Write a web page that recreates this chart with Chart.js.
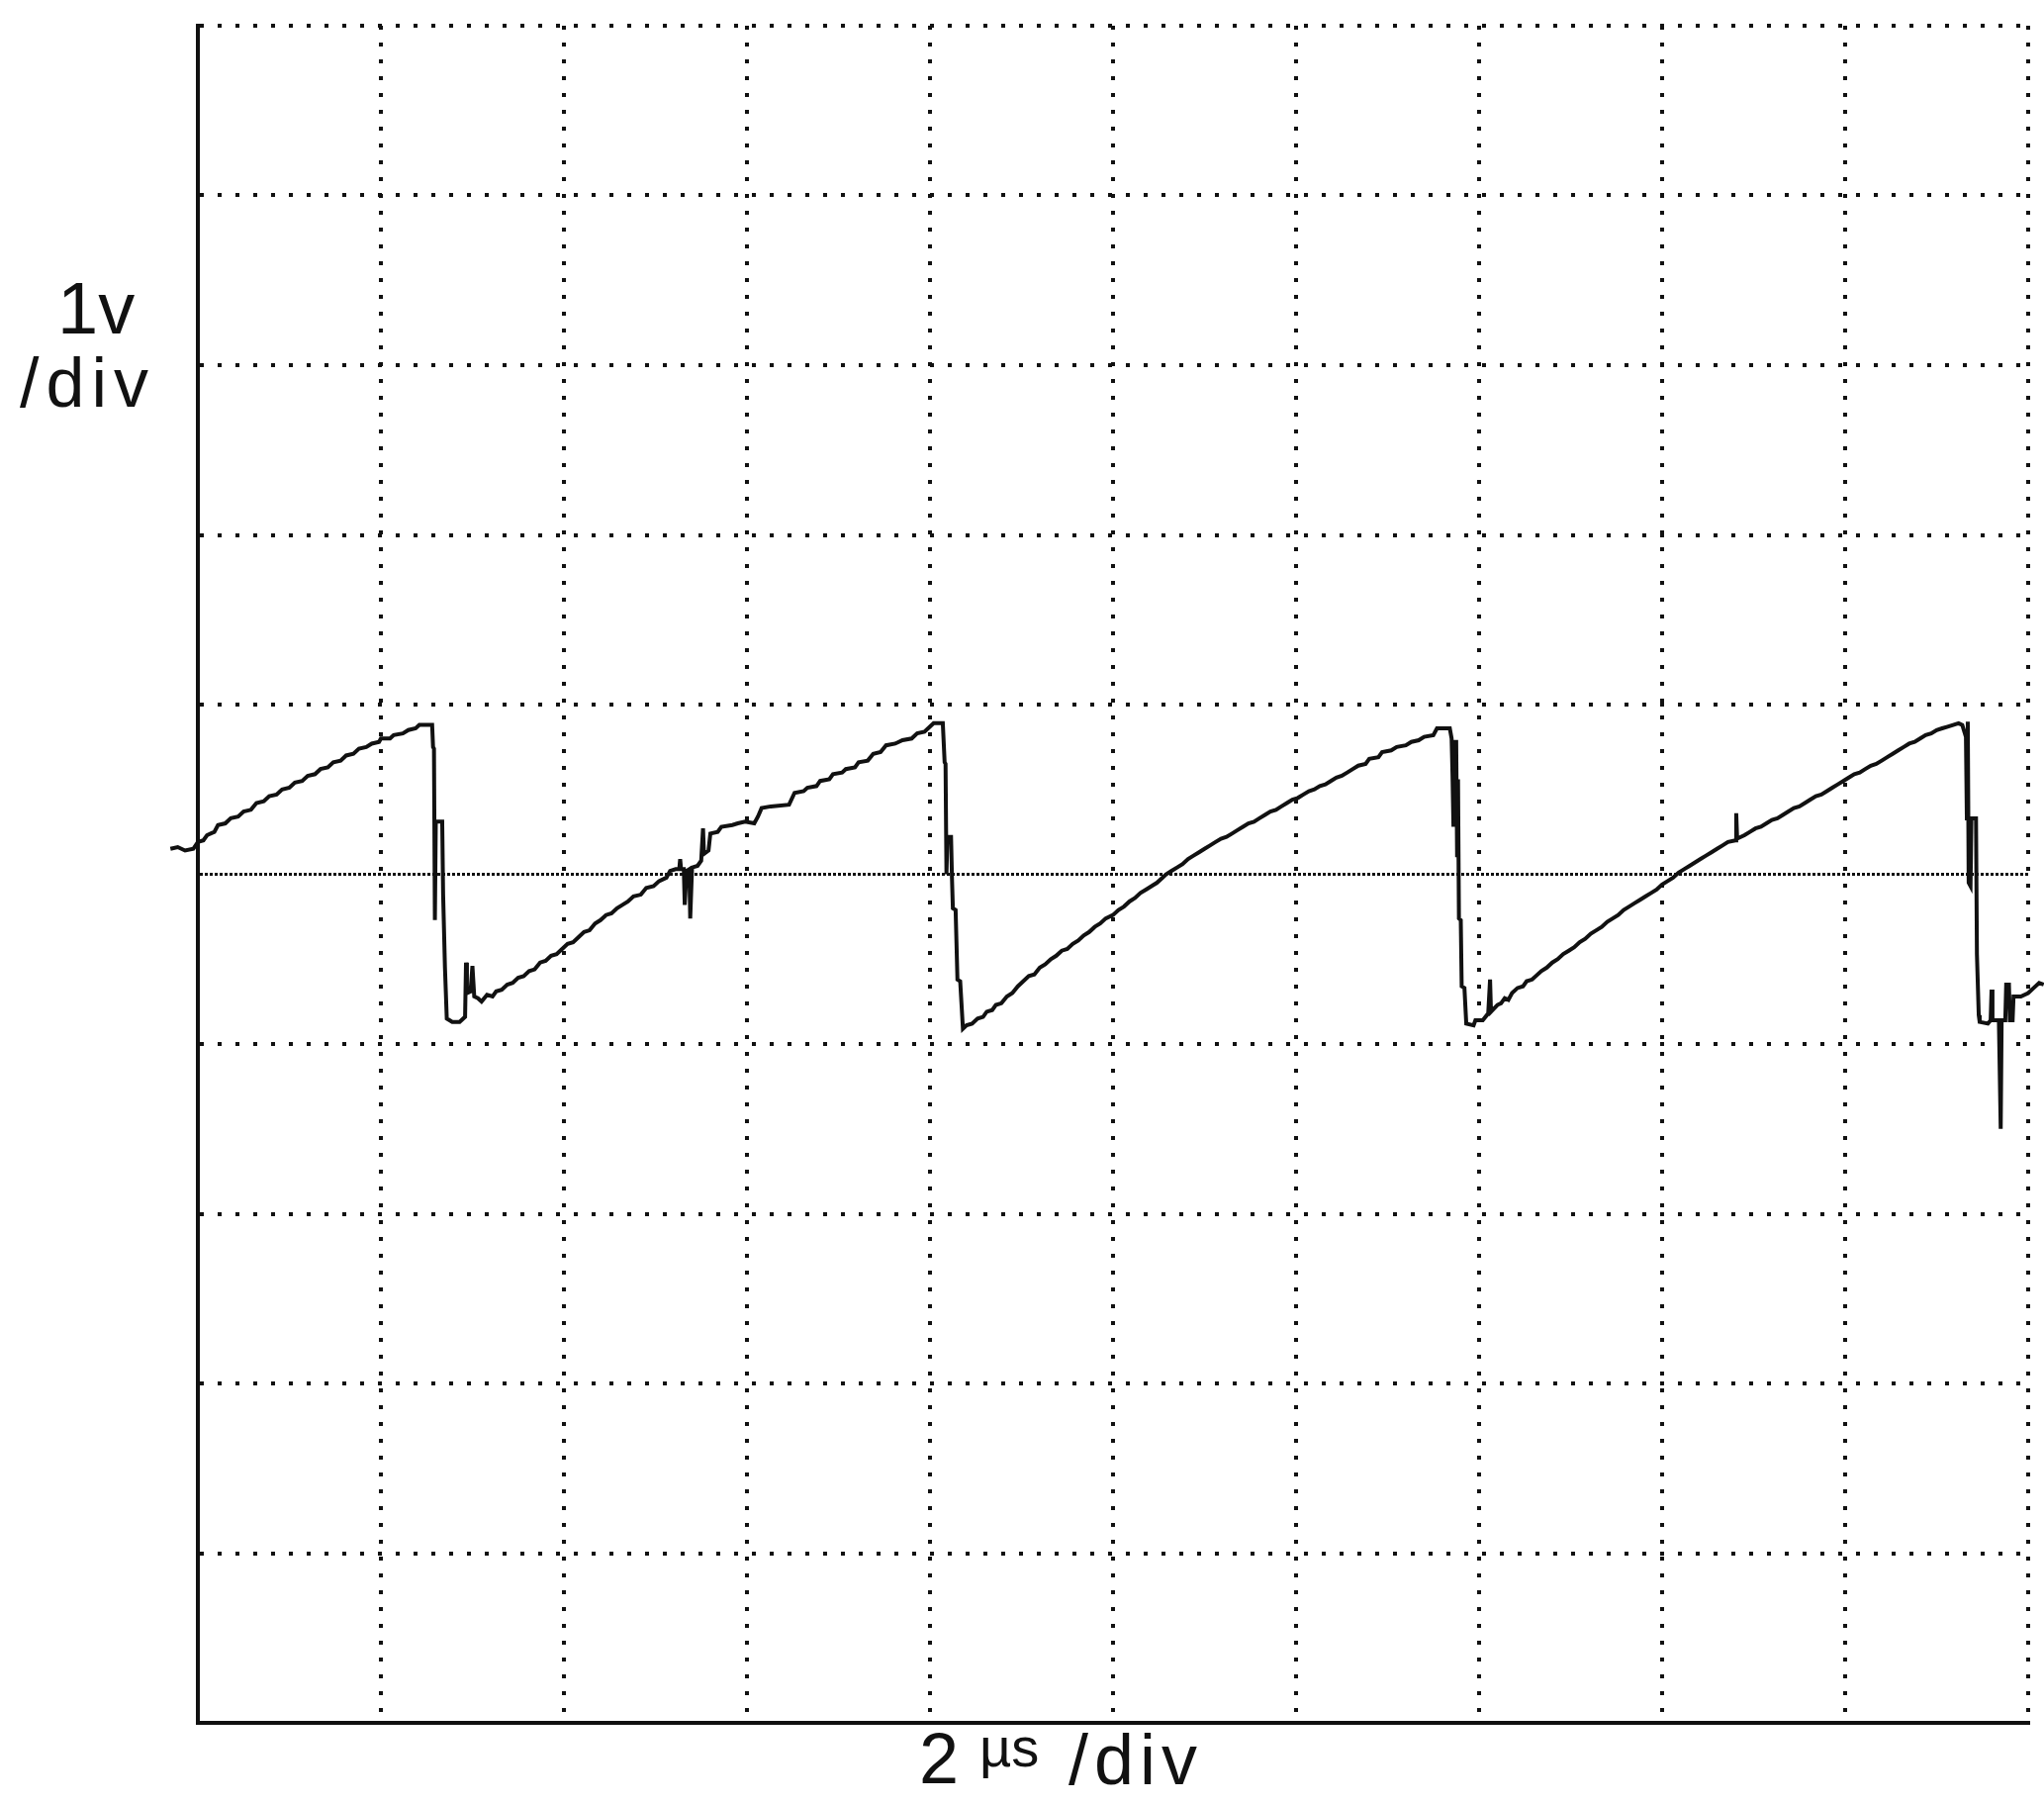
<!DOCTYPE html>
<html>
<head>
<meta charset="utf-8">
<title>Sawtooth scope trace</title>
<script src="https://cdn.jsdelivr.net/npm/chart.js@4/dist/chart.umd.min.js"></script>
<style>
  html, body { margin: 0; padding: 0; background: #fff; }
  canvas { display: block; }
</style>
</head>
<body>
<canvas id="scope" width="2066" height="1823"></canvas>
<script>
// divisions: 2 us per div across, 1 V per div up
const xTicks = [0, 2, 4, 6, 8, 10, 12, 14, 16, 18, 20];
const yTicks = [-5, -4, -3, -2, -1, 0, 1, 2, 3, 4, 5];

// trace (us, V)
const timeUs = [
  -0.30, -0.22, -0.14, -0.05, 0.00, 0.06, 0.10, 0.18, 0.22, 0.30, 0.36, 0.44, 0.50, 0.58, 0.64, 0.72,
  0.78, 0.86, 0.92, 1.00, 1.06, 1.14, 1.20, 1.28, 1.34, 1.42, 1.48, 1.56, 1.62, 1.70, 1.76, 1.84,
  1.90, 1.98, 2.00, 2.10, 2.14, 2.24, 2.30, 2.38, 2.42, 2.56, 2.57, 2.58, 2.59, 2.60, 2.67, 2.68,
  2.70, 2.72, 2.78, 2.86, 2.92, 2.93, 2.94, 2.98, 3.00, 3.02, 3.06, 3.10, 3.16, 3.22, 3.26, 3.32,
  3.38, 3.44, 3.50, 3.56, 3.62, 3.68, 3.74, 3.80, 3.86, 3.92, 3.98, 4.04, 4.10, 4.16, 4.22, 4.28,
  4.34, 4.40, 4.46, 4.52, 4.58, 4.64, 4.70, 4.76, 4.84, 4.90, 4.98, 5.04, 5.12, 5.16, 5.22, 5.26,
  5.27, 5.28, 5.31, 5.32, 5.34, 5.37, 5.38, 5.40, 5.46, 5.50, 5.52, 5.53, 5.58, 5.60, 5.68, 5.72,
  5.84, 5.90, 5.98, 6.08, 6.12, 6.16, 6.26, 6.46, 6.52, 6.62, 6.66, 6.76, 6.80, 6.90, 6.94, 7.04,
  7.08, 7.18, 7.22, 7.32, 7.38, 7.46, 7.52, 7.62, 7.70, 7.80, 7.86, 7.94, 8.00, 8.04, 8.14, 8.16,
  8.17, 8.18, 8.19, 8.23, 8.24, 8.25, 8.28, 8.30, 8.33, 8.36, 8.40, 8.46, 8.52, 8.58, 8.62, 8.68,
  8.72, 8.78, 8.84, 8.90, 8.96, 9.02, 9.08, 9.14, 9.20, 9.26, 9.32, 9.38, 9.44, 9.50, 9.56, 9.62,
  9.68, 9.74, 9.80, 9.86, 9.92, 10.00, 10.06, 10.12, 10.18, 10.24, 10.30, 10.36, 10.42, 10.48, 10.54, 10.58,
  10.64, 10.70, 10.76, 10.82, 10.88, 10.94, 11.00, 11.06, 11.12, 11.18, 11.24, 11.30, 11.36, 11.42, 11.48, 11.54,
  11.60, 11.66, 11.72, 11.78, 11.84, 11.90, 11.96, 12.02, 12.08, 12.14, 12.20, 12.26, 12.32, 12.38, 12.44, 12.50,
  12.56, 12.62, 12.68, 12.76, 12.80, 12.90, 12.94, 13.04, 13.10, 13.20, 13.26, 13.34, 13.40, 13.50, 13.54, 13.68,
  13.70, 13.71, 13.72, 13.73, 13.75, 13.76, 13.77, 13.78, 13.80, 13.81, 13.84, 13.86, 13.94, 13.96, 14.04, 14.10,
  14.12, 14.13, 14.20, 14.24, 14.28, 14.32, 14.36, 14.42, 14.48, 14.52, 14.58, 14.62, 14.68, 14.74, 14.80, 14.86,
  14.92, 14.98, 15.04, 15.10, 15.16, 15.22, 15.28, 15.34, 15.40, 15.46, 15.52, 15.58, 15.64, 15.70, 15.76, 15.82,
  15.88, 15.94, 16.00, 16.06, 16.12, 16.18, 16.24, 16.30, 16.36, 16.42, 16.48, 16.54, 16.60, 16.66, 16.72, 16.80,
  16.81, 16.82, 16.90, 16.96, 17.02, 17.08, 17.14, 17.20, 17.26, 17.32, 17.38, 17.44, 17.50, 17.56, 17.62, 17.68,
  17.74, 17.80, 17.86, 17.92, 17.98, 18.04, 18.10, 18.16, 18.22, 18.28, 18.34, 18.40, 18.46, 18.52, 18.58, 18.64,
  18.70, 18.76, 18.82, 18.88, 18.94, 19.00, 19.06, 19.12, 19.18, 19.24, 19.28, 19.32, 19.33, 19.34, 19.35, 19.37,
  19.38, 19.43, 19.44, 19.46, 19.47, 19.56, 19.59, 19.60, 19.61, 19.68, 19.70, 19.71, 19.75, 19.76, 19.79, 19.80,
  19.83, 19.84, 19.92, 20.00, 20.06, 20.12, 20.17
];
const volts = [
  0.15, 0.16, 0.14, 0.15, 0.19, 0.20, 0.23, 0.25, 0.29, 0.30, 0.33, 0.34, 0.37, 0.38, 0.42, 0.43,
  0.46, 0.47, 0.50, 0.51, 0.54, 0.55, 0.58, 0.59, 0.62, 0.63, 0.66, 0.67, 0.70, 0.71, 0.74, 0.75,
  0.77, 0.78, 0.80, 0.80, 0.82, 0.83, 0.85, 0.86, 0.88, 0.88, 0.75, 0.74, -0.27, 0.31, 0.31, -0.12,
  -0.55, -0.85, -0.87, -0.87, -0.84, -0.52, -0.70, -0.69, -0.54, -0.72, -0.73, -0.75, -0.71, -0.72, -0.69, -0.68,
  -0.65, -0.64, -0.61, -0.60, -0.57, -0.56, -0.52, -0.51, -0.48, -0.47, -0.44, -0.41, -0.40, -0.37, -0.34, -0.33,
  -0.29, -0.27, -0.24, -0.23, -0.20, -0.18, -0.16, -0.13, -0.12, -0.08, -0.07, -0.04, -0.02, 0.02, 0.03, 0.03,
  0.09, 0.03, 0.03, -0.18, 0.02, 0.03, -0.26, 0.04, 0.05, 0.08, 0.27, 0.12, 0.14, 0.24, 0.25, 0.28,
  0.29, 0.30, 0.31, 0.30, 0.34, 0.39, 0.40, 0.41, 0.48, 0.49, 0.51, 0.52, 0.55, 0.56, 0.59, 0.60,
  0.62, 0.63, 0.66, 0.67, 0.71, 0.72, 0.76, 0.77, 0.79, 0.80, 0.83, 0.84, 0.87, 0.89, 0.89, 0.66,
  0.65, 0.00, 0.22, 0.22, -0.02, -0.20, -0.21, -0.62, -0.63, -0.91, -0.89, -0.88, -0.85, -0.84, -0.81, -0.80,
  -0.77, -0.76, -0.72, -0.70, -0.66, -0.63, -0.60, -0.59, -0.55, -0.53, -0.50, -0.48, -0.45, -0.44, -0.41, -0.39,
  -0.36, -0.34, -0.31, -0.29, -0.26, -0.24, -0.21, -0.19, -0.16, -0.14, -0.11, -0.09, -0.07, -0.05, -0.02, 0.00,
  0.02, 0.04, 0.06, 0.09, 0.11, 0.13, 0.15, 0.17, 0.19, 0.21, 0.22, 0.24, 0.26, 0.28, 0.30, 0.31,
  0.33, 0.35, 0.37, 0.38, 0.40, 0.42, 0.44, 0.45, 0.47, 0.49, 0.50, 0.52, 0.53, 0.55, 0.57, 0.58,
  0.60, 0.62, 0.64, 0.65, 0.68, 0.69, 0.72, 0.73, 0.75, 0.76, 0.78, 0.79, 0.81, 0.82, 0.86, 0.86,
  0.80, 0.58, 0.28, 0.78, 0.78, 0.10, 0.56, -0.26, -0.27, -0.66, -0.67, -0.88, -0.89, -0.86, -0.86, -0.82,
  -0.62, -0.81, -0.77, -0.76, -0.73, -0.74, -0.70, -0.67, -0.66, -0.63, -0.62, -0.60, -0.57, -0.55, -0.52, -0.50,
  -0.47, -0.45, -0.43, -0.40, -0.38, -0.35, -0.33, -0.31, -0.28, -0.26, -0.24, -0.21, -0.19, -0.17, -0.15, -0.13,
  -0.11, -0.09, -0.06, -0.04, -0.02, 0.01, 0.03, 0.05, 0.07, 0.09, 0.11, 0.13, 0.15, 0.17, 0.19, 0.20,
  0.36, 0.21, 0.23, 0.25, 0.27, 0.28, 0.30, 0.32, 0.33, 0.35, 0.37, 0.39, 0.40, 0.42, 0.44, 0.46,
  0.47, 0.49, 0.51, 0.53, 0.55, 0.57, 0.59, 0.60, 0.62, 0.64, 0.65, 0.67, 0.69, 0.71, 0.73, 0.75,
  0.77, 0.78, 0.80, 0.82, 0.83, 0.85, 0.86, 0.87, 0.88, 0.89, 0.88, 0.81, 0.33, 0.90, -0.05, -0.07,
  0.33, 0.33, -0.47, -0.83, -0.87, -0.88, -0.86, -0.68, -0.86, -0.86, -1.50, -0.86, -0.86, -0.65, -0.65, -0.86,
  -0.86, -0.72, -0.72, -0.70, -0.67, -0.64, -0.65
];

const trace = timeUs.map((t, i) => ({ x: t, y: volts[i] }));

// scale labels, as printed beside the screen
const scopeLabels = {
  id: 'scopeLabels',
  afterDraw(chart) {
    const c = chart.ctx;
    c.save();
    c.fillStyle = '#111';
    c.textBaseline = 'alphabetic';
    c.textAlign = 'left';

    c.font = '74px "Liberation Sans", Arial, sans-serif';
    c.fillText('1v', 58, 337);
    c.font = '70px "Liberation Sans", Arial, sans-serif';
    c.letterSpacing = '7px';
    c.fillText('/div', 20, 411);

    c.letterSpacing = '0px';
    c.font = '72px "Liberation Sans", Arial, sans-serif';
    c.fillText('2', 929, 1802);
    c.font = '56px "Liberation Sans", Arial, sans-serif';
    c.fillText('µs', 990, 1785);
    c.font = '72px "Liberation Sans", Arial, sans-serif';
    c.letterSpacing = '6px';
    c.fillText('/div', 1080, 1803);
    c.restore();
  }
};

new Chart(document.getElementById('scope'), {
  type: 'line',
  data: {
    datasets: [{
      data: trace,
      borderColor: '#111',
      borderWidth: 4,
      pointRadius: 0,
      tension: 0,
      clip: false
    }]
  },
  options: {
    responsive: false,
    devicePixelRatio: 1,
    animation: false,
    layout: { padding: { left: 200, top: 26, right: 16, bottom: 82 } },
    plugins: { legend: { display: false }, tooltip: { enabled: false } },
    scales: {
      x: {
        type: 'linear',
        bounds: 'data',
        afterDataLimits: s => { s.min = xTicks[0]; s.max = xTicks[xTicks.length - 1]; },
        afterBuildTicks: s => { s.ticks = xTicks.map(v => ({ value: v })); },
        ticks: { display: false },
        grid: { color: '#111', lineWidth: 4, drawTicks: false },
        border: { display: true, color: '#111', width: 4,
                  dash: ctx => ctx.type === 'tick' ? [4, 13] : [] }
      },
      y: {
        type: 'linear',
        bounds: 'data',
        afterDataLimits: s => { s.min = yTicks[0]; s.max = yTicks[yTicks.length - 1]; },
        afterBuildTicks: s => { s.ticks = yTicks.map(v => ({ value: v })); },
        ticks: { display: false },
        grid: { color: '#111', drawTicks: false,
                lineWidth: ctx => (ctx.tick && ctx.tick.value === 0) ? 3 : 4 },
        border: { display: true, color: '#111', width: 4,
                  dash: ctx => {
                    if (ctx.type !== 'tick') return [];
                    return ctx.tick.value === 0 ? [3, 2] : [4, 14];
                  } }
      }
    }
  },
  plugins: [scopeLabels]
});
</script>
</body>
</html>
